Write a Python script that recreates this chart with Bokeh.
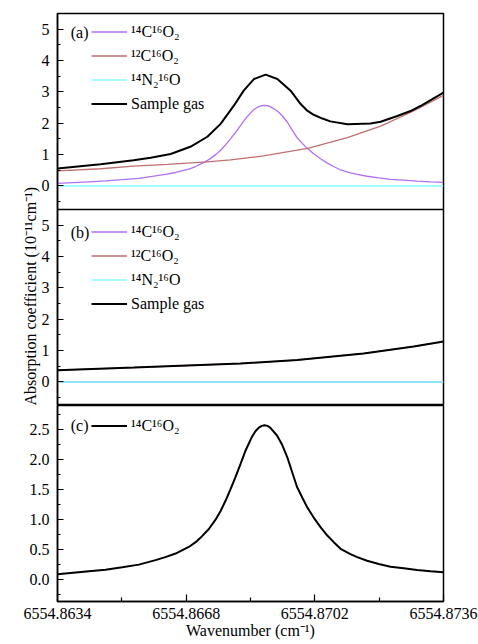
from bokeh.plotting import figure
from bokeh.models import Range1d, FixedTicker, Legend, LegendItem, Label, Span, Title
from bokeh.layouts import column
from bokeh.embed import file_html
from bokeh.resources import INLINE

FONT = "Liberation Serif"

# ---------------- data ----------------
x_ticks = [6554.8634, 6554.8668, 6554.8702, 6554.8736]
x_minor = [6554.8651, 6554.8685, 6554.8719]
x_tick_labels = ["6554.8634", "6554.8668", "6554.8702", "6554.8736"]

ab_ticks = [0, 1, 2, 3, 4, 5]
ab_tick_labels = ["0", "1", "2", "3", "4", "5"]
ab_minor = [-0.5, 0.5, 1.5, 2.5, 3.5, 4.5, 5.5]
c_ticks = [0.0, 0.5, 1.0, 1.5, 2.0, 2.5]
c_tick_labels = ["0.0", "0.5", "1.0", "1.5", "2.0", "2.5"]
c_minor = [-0.25, 0.25, 0.75, 1.25, 1.75, 2.25, 2.75]

# 14C16O2 line profile (panels a and c)
wn_14 = [6554.86340, 6554.86423, 6554.86467, 6554.86511, 6554.86555, 6554.86599,
         6554.86625, 6554.86652, 6554.86687, 6554.86705, 6554.86722, 6554.86740,
         6554.86758, 6554.86771, 6554.86784, 6554.86797, 6554.86810, 6554.86824,
         6554.86837, 6554.86854, 6554.86863, 6554.86872, 6554.86880, 6554.86887,
         6554.86895, 6554.86902, 6554.86920, 6554.86934, 6554.86947, 6554.86960,
         6554.86973, 6554.86987, 6554.87000, 6554.87017, 6554.87035, 6554.87053,
         6554.87070, 6554.87088, 6554.87114, 6554.87132, 6554.87158, 6554.87189,
         6554.87220, 6554.87255, 6554.87290, 6554.87326, 6554.87360]
abs_14 = [0.085, 0.134, 0.16, 0.20, 0.245, 0.32,
          0.37, 0.43, 0.54, 0.62, 0.72, 0.84,
          1.00, 1.14, 1.31, 1.50, 1.70, 1.93,
          2.15, 2.38, 2.47, 2.53, 2.56, 2.57,
          2.56, 2.53, 2.40, 2.24, 2.04, 1.79,
          1.54, 1.36, 1.20, 1.03, 0.87, 0.73,
          0.62, 0.51, 0.42, 0.37, 0.31, 0.256,
          0.21, 0.184, 0.156, 0.134, 0.117]

# 12C16O2 (panel a)
wn_12a = [6554.86340, 6554.86454, 6554.86541, 6554.86631, 6554.86736, 6554.86797,
          6554.86884, 6554.87001, 6554.87106, 6554.87194, 6554.87281, 6554.87360]
abs_12a = [0.48, 0.55, 0.63, 0.69, 0.77, 0.83, 0.96, 1.20, 1.54, 1.91, 2.39, 2.89]

# sample gas (panel a)
wn_sa = [6554.86340, 6554.86454, 6554.86541, 6554.86586, 6554.86639, 6554.86691,
         6554.86736, 6554.86771, 6554.86806, 6554.86832, 6554.86859, 6554.86890,
         6554.86921, 6554.86956, 6554.86982, 6554.87000, 6554.87017, 6554.87040,
         6554.87061, 6554.87106, 6554.87167, 6554.87194, 6554.87238, 6554.87273,
         6554.87299, 6554.87326, 6554.87360]
abs_sa = [0.56, 0.69, 0.82, 0.90, 1.02, 1.25,
          1.57, 1.98, 2.56, 3.04, 3.41, 3.55,
          3.41, 3.04, 2.62, 2.40, 2.27, 2.15,
          2.06, 1.97, 1.99, 2.05, 2.23, 2.39,
          2.55, 2.74, 2.98]

# sample gas (panel b) - 12C16O2 only
wn_sb = [6554.86340, 6554.86541, 6554.86824, 6554.86973, 6554.87149, 6554.87281, 6554.87360]
abs_sb = [0.376, 0.46, 0.59, 0.70, 0.91, 1.13, 1.29]

# zero-level species
wn_edges = [6554.8634, 6554.8736]
abs_zero = [0.0, 0.0]

labels_species = ["\u00b9\u2074C\u00b9\u2076O\u2082", "\u00b9\u00b2C\u00b9\u2076O\u2082",
                  "\u00b9\u2074N\u2082\u00b9\u2076O", "Sample gas"]
panel_tags = ["(a)", "(b)", "(c)"]
y_title = "Absorption coefficient (10\u207b\u00b9\u00b9cm\u207b\u00b9)"
x_title = "Wavenumber (cm\u207b\u00b9)"

PURPLE = "#B070F0"
BROWN = "#C07070"
CYAN = "#80FFFF"

Y0, Y1 = -0.75, 5.5
BAND = Y1 - Y0
C0, C1 = -0.37, 2.9
TAG_X = 6554.86375

xr = Range1d(x_ticks[0], x_ticks[-1])


def style_y(ax):
    ax.major_tick_in = 6
    ax.major_tick_out = 0
    ax.minor_tick_in = 3
    ax.minor_tick_out = 0
    ax.major_label_standoff = 8
    ax.major_label_text_font = FONT
    ax.major_label_text_font_size = "16px"
    ax.major_label_text_color = "black"
    ax.axis_line_color = "black"
    ax.axis_line_width = 1.5
    ax.major_tick_line_color = "black"
    ax.major_tick_line_width = 1.2
    ax.minor_tick_line_color = "black"
    ax.minor_tick_line_width = 1.2


def legend_for(renderers, labels, loc):
    lg = Legend(items=[LegendItem(label=l, renderers=[r]) for l, r in zip(labels, renderers)],
                location=loc)
    lg.border_line_color = None
    lg.background_fill_alpha = 0
    lg.padding = 0
    lg.margin = 0
    lg.spacing = 5
    lg.label_height = 19
    lg.glyph_height = 19
    lg.glyph_width = 36
    lg.label_standoff = 4
    lg.label_text_font = FONT
    lg.label_text_font_size = "16px"
    lg.label_text_color = "black"
    return lg


def tag(text, y, **kw):
    return Label(x=TAG_X, y=y, text=text, text_font=FONT, text_font_size="16px",
                 text_color="black", text_baseline="middle", text_align="left", **kw)


# -------- panels (a)+(b) in one figure --------
fab = figure(frame_width=386, frame_height=392, min_border_left=57, min_border_right=35,
             min_border_top=13, min_border_bottom=0, x_range=xr,
             y_range=Range1d(Y0, Y1 + BAND), output_backend="svg", toolbar_location=None)
fab.extra_y_ranges = {"a": Range1d(Y0 - BAND, Y1)}
fab.xaxis.visible = False
fab.grid.visible = False
fab.outline_line_color = "black"
fab.outline_line_width = 1.5
fab.background_fill_color = "white"
fab.border_fill_color = "white"

tick_pos = list(ab_ticks) + [t + BAND for t in ab_ticks]
tick_lab = list(ab_tick_labels) + list(ab_tick_labels)
minor_pos = list(ab_minor) + [m + BAND for m in ab_minor]
fab.yaxis.ticker = FixedTicker(ticks=tick_pos, minor_ticks=minor_pos)
fab.yaxis.major_label_overrides = {p: l for p, l in zip(tick_pos, tick_lab)}
style_y(fab.yaxis[0])

# panel (a)
ra1 = fab.line(wn_14, abs_14, y_range_name="a", line_color=PURPLE, line_width=1.3)
ra2 = fab.line(wn_12a, abs_12a, y_range_name="a", line_color=BROWN, line_width=1.3)
ra4 = fab.line(wn_sa, abs_sa, y_range_name="a", line_color="black", line_width=2)
ra3 = fab.line(wn_edges, abs_zero, y_range_name="a", line_color=CYAN, line_width=1.3)

# panel (b)
rb1 = fab.line(wn_edges, abs_zero, line_color=PURPLE, line_width=1.3)
rb2 = fab.line(wn_sb, abs_sb, line_color=BROWN, line_width=1.3)
rb3 = fab.line(wn_edges, abs_zero, line_color=CYAN, line_width=1.3)
rb4 = fab.line(wn_sb, abs_sb, line_color="black", line_width=2)

fab.add_layout(Span(location=Y1, dimension="width", line_color="black", line_width=1.5))

fab.add_layout(legend_for([ra1, ra2, ra3, ra4], labels_species, (34, 292)))
fab.add_layout(legend_for([rb1, rb2, rb3, rb4], labels_species, (34, 92)))

fab.add_layout(tag(panel_tags[0], 4.894, y_range_name="a"))
fab.add_layout(tag(panel_tags[1], 4.767))

ttl = Title(text=y_title, align="left", offset=0, standoff=0,
            text_font=FONT, text_font_size="16px", text_font_style="normal",
            text_color="black")
fab.add_layout(ttl, "left")

# -------- panel (c) --------
fc = figure(frame_width=386, frame_height=196, min_border_left=57, min_border_right=35,
            min_border_top=0, min_border_bottom=43, x_range=xr,
            y_range=Range1d(C0, C1), output_backend="svg", toolbar_location=None)
fc.grid.visible = False
fc.outline_line_color = "black"
fc.outline_line_width = 1.5
fc.background_fill_color = "white"
fc.border_fill_color = "white"
fc.yaxis.ticker = FixedTicker(ticks=c_ticks, minor_ticks=c_minor)
fc.yaxis.major_label_overrides = {p: l for p, l in zip(c_ticks, c_tick_labels)}
style_y(fc.yaxis[0])

xa = fc.xaxis[0]
xa.ticker = FixedTicker(ticks=x_ticks, minor_ticks=x_minor)
xa.major_label_overrides = {p: l for p, l in zip(x_ticks, x_tick_labels)}
xa.major_tick_in = 7
xa.major_tick_out = 0
xa.minor_tick_in = 4
xa.minor_tick_out = 0
xa.major_label_standoff = 6
xa.major_label_text_font = FONT
xa.major_label_text_font_size = "16px"
xa.major_label_text_color = "black"
xa.axis_line_color = "black"
xa.axis_line_width = 1.5
xa.major_tick_line_color = "black"
xa.major_tick_line_width = 1.2
xa.minor_tick_line_color = "black"
xa.minor_tick_line_width = 1.2
xa.axis_label = x_title
xa.axis_label_standoff = 0
xa.axis_label_text_font = FONT
xa.axis_label_text_font_size = "16px"
xa.axis_label_text_font_style = "normal"
xa.axis_label_text_color = "black"

rc = fc.line(wn_14, abs_14, line_color="black", line_width=2)
fc.add_layout(legend_for([rc], labels_species[:1], (34, 166)))
fc.add_layout(tag(panel_tags[2], 2.566))

layout = column(fab, fc, spacing=0)

open("out.html", "w").write(file_html(layout, INLINE))
